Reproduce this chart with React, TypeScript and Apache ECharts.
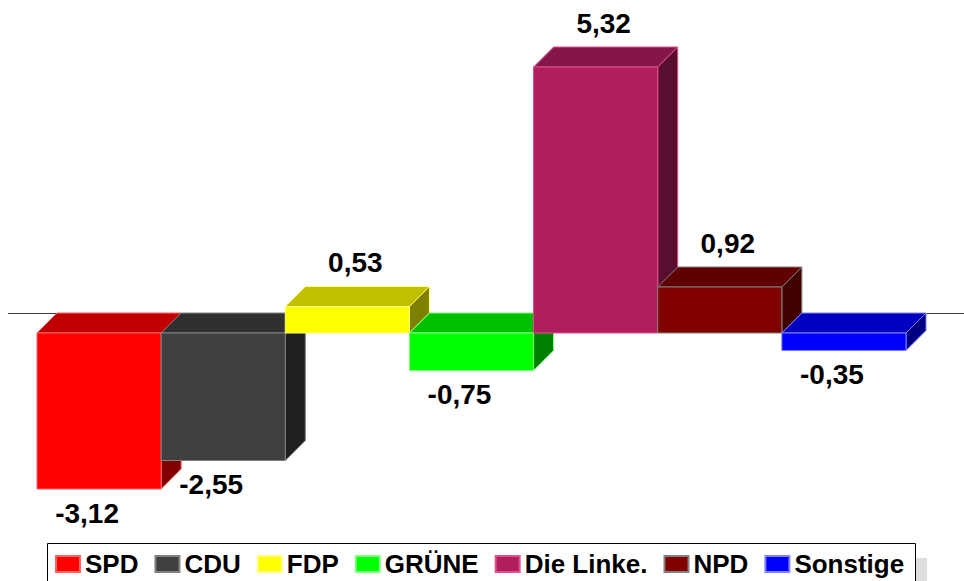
import React, { useEffect, useRef } from "react";
import * as echarts from "echarts";

const categories = ["SPD", "CDU", "FDP", "GRÜNE", "Die Linke.", "NPD", "Sonstige"];
const values = [-3.12, -2.55, 0.53, -0.75, 5.32, 0.92, -0.35];

const frontColors = ["#ff0000", "#404040", "#ffff00", "#00ff00", "#b01e5e", "#800000", "#0000ff"];
const topColors = ["#c00000", "#303030", "#c0c000", "#00c000", "#84164a", "#600000", "#0000c0"];
const sideColors = ["#800000", "#202020", "#808000", "#008000", "#580f2f", "#400000", "#000080"];
const edgeColors = ["#ff6464", "#808080", "#ffff80", "#80ff80", "#e0508a", "#808080", "#8080ff"];

const DEPTH = 20;
const FONT = '"Liberation Sans", Arial, Helvetica, sans-serif';

const fmt = (v: number) => v.toFixed(2).replace(".", ",");

export default function App() {
  const ref = useRef<HTMLDivElement>(null);

  useEffect(() => {
    if (!ref.current) return;
    const chart = echarts.init(ref.current, undefined, { renderer: "svg" });

    const makeRender = (i: number) => (params: any, api: any) => {
      const idx = api.value(0);
      const val = api.value(1);
      const pz = api.coord([idx, 0]);
      const pv = api.coord([idx, val]);
      const w = api.size([1, 0])[0];
      const x0 = pz[0] - w / 2;
      const x1 = pz[0] + w / 2;
      const yTop = Math.min(pz[1], pv[1]);
      const yBot = Math.max(pz[1], pv[1]);
      const d = DEPTH;
      const stroke = edgeColors[i];
      const positive = val >= 0;
      return {
        type: "group",
        children: [
          {
            type: "polygon",
            shape: { points: [[x1, yTop], [x1 + d, yTop - d], [x1 + d, yBot - d], [x1, yBot]] },
            style: { fill: sideColors[i], stroke, lineWidth: 1 },
          },
          {
            type: "polygon",
            shape: { points: [[x0, yTop], [x1, yTop], [x1 + d, yTop - d], [x0 + d, yTop - d]] },
            style: { fill: topColors[i], stroke, lineWidth: 1 },
          },
          {
            type: "rect",
            shape: { x: x0, y: yTop, width: w, height: yBot - yTop },
            style: { fill: frontColors[i], stroke, lineWidth: 1 },
          },
          {
            type: "text",
            style: {
              text: fmt(val),
              x: positive ? pz[0] + 8 : pz[0] - 12,
              y: positive ? yTop - d - 24 : yBot + 24,
              align: "center",
              verticalAlign: "middle",
              font: `bold 28px ${FONT}`,
              fill: "#000",
            },
          },
        ],
      };
    };

    const baselineSeries = {
      type: "custom",
      name: "__baseline",
      silent: true,
      data: [[0, 0]],
      encode: { x: 0, y: 1 },
      renderItem: (params: any, api: any) => {
        const p = api.coord([0, 0]);
        const y = Math.round(p[1] - DEPTH) + 0.5;
        return {
          type: "line",
          shape: { x1: 8, y1: y, x2: 964, y2: y },
          style: { stroke: "#404040", lineWidth: 1 },
        };
      },
    };

    const barSeries = categories.map((name, i) => ({
      type: "custom",
      name,
      data: [[i, values[i]]],
      encode: { x: 0, y: 1 },
      itemStyle: { color: frontColors[i], borderColor: edgeColors[i], borderWidth: 1 },
      renderItem: makeRender(i),
    }));

    chart.setOption({
      animation: false,
      backgroundColor: "#ffffff",
      grid: { left: 37, right: 58, top: 33, bottom: 48, containLabel: false },
      xAxis: { type: "category", data: categories, show: false },
      yAxis: { type: "value", min: -4, max: 6, show: false },
      graphic: [
        { type: "rect", shape: { x: 916, y: 558, width: 11, height: 40 }, style: { fill: "#dedede" }, z: 0 },
        {
          type: "rect",
          shape: { x: 47.5, y: 543.5, width: 868, height: 60 },
          style: { fill: "#ffffff", stroke: "#000000", lineWidth: 1 },
          z: 1,
        },
      ],
      legend: {
        data: categories,
        left: 55,
        top: 551,
        padding: 0,
        itemWidth: 24,
        itemHeight: 16,
        itemGap: 16,
        icon: "rect",
        selectedMode: false,
        z: 5,
        textStyle: { fontSize: 26, fontWeight: "bold", fontFamily: FONT, color: "#000", lineHeight: 26 },
      },
      series: [baselineSeries, ...barSeries],
    });

    return () => chart.dispose();
  }, []);

  return (
    <div
      ref={ref}
      style={{ position: "fixed", left: 0, top: 0, width: 964, height: 581, background: "#fff" }}
    />
  );
}
